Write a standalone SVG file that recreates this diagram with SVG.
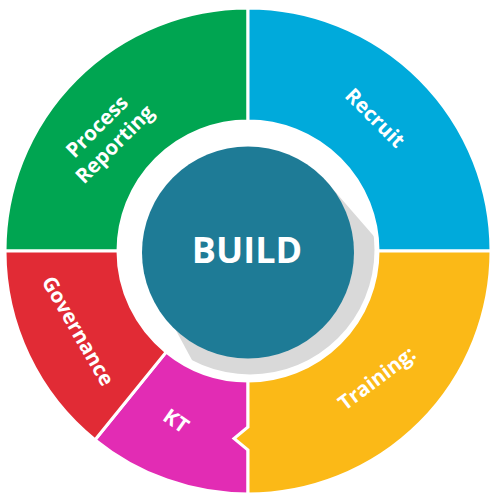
<svg xmlns="http://www.w3.org/2000/svg" width="500" height="500" viewBox="0 0 500 500">
  <defs>
    <clipPath id="innerClip">
      <circle cx="250" cy="250" r="124.5"/>
    </clipPath>
  </defs>
  <style>
    .seg { stroke: #ffffff; stroke-width: 3; stroke-linejoin: miter; }
    .lbl { font-family: "Open Sans", "Liberation Sans", sans-serif; font-weight: bold; font-size: 20.5px; fill: #ffffff; text-anchor: middle; }
    .center { font-family: "Open Sans", "Liberation Sans", sans-serif; font-weight: bold; font-size: 36px; fill: #ffffff; text-anchor: middle; }
  </style>
  <rect width="500" height="500" fill="#ffffff"/>

  <g id="process-reporting">
    <path class="seg" fill="#00a551" d="M 5 251 A 243 243 0 0 1 248 8 L 248 121 A 130 130 0 0 0 118 251 Z"/>
    <g transform="translate(105.5,135) rotate(-45)">
      <text class="lbl" x="0" y="-5">Process</text>
      <text class="lbl" x="0" y="20">Reporting</text>
    </g>
  </g>

  <g id="recruit">
    <path class="seg" fill="#00aadb" d="M 248 8 A 243 243 0 0 1 491 251 L 378 251 A 130 130 0 0 0 248 121 Z"/>
    <text class="lbl" transform="translate(375,118) rotate(45)" x="0" y="7">Recruit</text>
  </g>

  <g id="kt">
    <path class="seg" fill="#e22cb4" d="M 248 494 A 243 243 0 0 1 95.1 439.8 L 166.2 352 A 130 130 0 0 0 248 381 Z"/>
    <text class="lbl" transform="translate(176,421) rotate(35)" x="0" y="7">KT</text>
  </g>

  <g id="training">
    <path class="seg" fill="#fbb917" d="M 491 251 A 243 243 0 0 1 248 494 L 248 450 L 234 438.5 L 248 427 L 248 381 A 130 130 0 0 0 378 251 Z"/>
    <text class="lbl" transform="translate(378,380) rotate(-37)" x="0" y="5">Training:</text>
  </g>

  <g id="governance">
    <path class="seg" fill="#e12b35" d="M 95.1 439.8 A 243 243 0 0 1 5 251 L 118 251 A 130 130 0 0 0 166.2 352 Z"/>
    <text class="lbl" transform="translate(78,331) rotate(60)" x="0" y="7">Governance</text>
  </g>

  <g id="build">
    <g clip-path="url(#innerClip)">
      <polygon fill="#d9d9d9" points="325,180 525,410 277,518 172,323"/>
    </g>
    <circle cx="248" cy="252.5" r="106" fill="#1e7b96"/>
    <text class="center" x="247" y="263">BUILD</text>
  </g>
</svg>
